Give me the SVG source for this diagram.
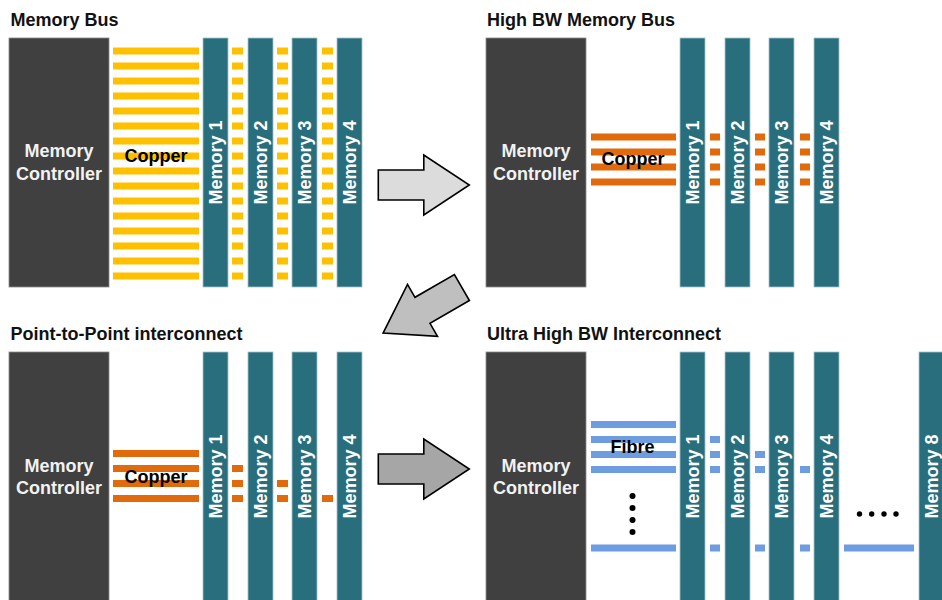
<svg xmlns="http://www.w3.org/2000/svg" width="942" height="600" viewBox="0 0 942 600">
<defs>
<style>
text{font-family:"Liberation Sans",Arial,sans-serif;font-weight:bold;font-size:18px}
.title{fill:#111}
.ctrl{fill:#404040;stroke:#8a8a8a;stroke-width:0.8}
.ctrlt{fill:#f2f2f2;text-anchor:middle}
.mem{fill:#296e7d;stroke:#a3c2c9;stroke-width:0.8}
.memt{fill:#ffffff;text-anchor:middle}
.y{fill:#ffc000}
.o{fill:#e06a0c}
.b{fill:#6d9de0}
.lbl{fill:#000;text-anchor:middle}
.arrow{stroke:#000;stroke-width:1.6;stroke-linejoin:miter}
</style>
<polygon id="arr" points="-45.5,-15 0,-15 0,-30 45.5,0 0,30 0,15 -45.5,15"/>
</defs>
<rect width="942" height="600" fill="#ffffff"/>

<!-- Panel 1: Memory Bus -->
<g id="panel-memory-bus">
<text class="title" x="10.5" y="26">Memory Bus</text>
<g id="p1-controller"><rect class="ctrl" x="9" y="38" width="100" height="249"/><text class="ctrlt" x="59" y="157">Memory</text><text class="ctrlt" x="59" y="180">Controller</text></g>
<g id="p1-copper">
<rect class="y" x="113" y="47.5" width="86" height="7"/><rect class="y" x="113" y="62.5" width="86" height="7"/><rect class="y" x="113" y="77.5" width="86" height="7"/><rect class="y" x="113" y="92.5" width="86" height="7"/><rect class="y" x="113" y="107.5" width="86" height="7"/><rect class="y" x="113" y="122.5" width="86" height="7"/><rect class="y" x="113" y="137.5" width="86" height="7"/><rect class="y" x="113" y="152.5" width="86" height="7"/><rect class="y" x="113" y="167.5" width="86" height="7"/><rect class="y" x="113" y="182.5" width="86" height="7"/><rect class="y" x="113" y="197.5" width="86" height="7"/><rect class="y" x="113" y="212.5" width="86" height="7"/><rect class="y" x="113" y="227.5" width="86" height="7"/><rect class="y" x="113" y="242.5" width="86" height="7"/><rect class="y" x="113" y="257.5" width="86" height="7"/><rect class="y" x="113" y="272.5" width="86" height="7"/>
<text class="lbl" x="156" y="161.5">Copper</text>
</g>
<g id="p1-dashes">
<g id="p1-d1">
<rect class="y" x="232" y="47.5" width="11" height="7"/><rect class="y" x="232" y="62.5" width="11" height="7"/><rect class="y" x="232" y="77.5" width="11" height="7"/><rect class="y" x="232" y="92.5" width="11" height="7"/><rect class="y" x="232" y="107.5" width="11" height="7"/><rect class="y" x="232" y="122.5" width="11" height="7"/><rect class="y" x="232" y="137.5" width="11" height="7"/><rect class="y" x="232" y="152.5" width="11" height="7"/><rect class="y" x="232" y="167.5" width="11" height="7"/><rect class="y" x="232" y="182.5" width="11" height="7"/><rect class="y" x="232" y="197.5" width="11" height="7"/><rect class="y" x="232" y="212.5" width="11" height="7"/><rect class="y" x="232" y="227.5" width="11" height="7"/><rect class="y" x="232" y="242.5" width="11" height="7"/><rect class="y" x="232" y="257.5" width="11" height="7"/><rect class="y" x="232" y="272.5" width="11" height="7"/>
</g>
<use href="#p1-d1" x="45"/>
<use href="#p1-d1" x="90"/>
</g>
<g id="p1-mem1"><rect class="mem" x="203" y="38" width="25" height="249"/><text class="memt" transform="translate(222,162.5) rotate(-90)">Memory 1</text></g>
<g id="p1-mem2"><rect class="mem" x="248" y="38" width="25" height="249"/><text class="memt" transform="translate(267,162.5) rotate(-90)">Memory 2</text></g>
<g id="p1-mem3"><rect class="mem" x="292" y="38" width="25" height="249"/><text class="memt" transform="translate(311,162.5) rotate(-90)">Memory 3</text></g>
<g id="p1-mem4"><rect class="mem" x="337" y="38" width="25" height="249"/><text class="memt" transform="translate(356,162.5) rotate(-90)">Memory 4</text></g>
</g>

<!-- Panel 2: High BW Memory Bus -->
<g id="panel-high-bw">
<text class="title" x="487" y="26">High BW Memory Bus</text>
<g id="p2-controller"><rect class="ctrl" x="486" y="38" width="100" height="249"/><text class="ctrlt" x="536" y="157">Memory</text><text class="ctrlt" x="536" y="180">Controller</text></g>
<g id="p2-copper">
<rect class="o" x="591" y="133.5" width="85" height="7"/><rect class="o" x="591" y="148.5" width="85" height="7"/><rect class="o" x="591" y="163.5" width="85" height="7"/><rect class="o" x="591" y="178.5" width="85" height="7"/>
<text class="lbl" x="633" y="165">Copper</text>
</g>
<g id="p2-dashes">
<g id="p2-d1"><rect class="o" x="710" y="133.5" width="10" height="7"/><rect class="o" x="710" y="148.5" width="10" height="7"/><rect class="o" x="710" y="163.5" width="10" height="7"/><rect class="o" x="710" y="178.5" width="10" height="7"/></g>
<use href="#p2-d1" x="45"/>
<use href="#p2-d1" x="90"/>
</g>
<g id="p2-mem1"><rect class="mem" x="680" y="38" width="25" height="249"/><text class="memt" transform="translate(699,162.5) rotate(-90)">Memory 1</text></g>
<g id="p2-mem2"><rect class="mem" x="725" y="38" width="25" height="249"/><text class="memt" transform="translate(744,162.5) rotate(-90)">Memory 2</text></g>
<g id="p2-mem3"><rect class="mem" x="769" y="38" width="25" height="249"/><text class="memt" transform="translate(788,162.5) rotate(-90)">Memory 3</text></g>
<g id="p2-mem4"><rect class="mem" x="814" y="38" width="25" height="249"/><text class="memt" transform="translate(833,162.5) rotate(-90)">Memory 4</text></g>
</g>

<!-- Panel 3: Point-to-Point -->
<g id="panel-p2p">
<text class="title" x="10.5" y="340">Point-to-Point interconnect</text>
<g id="p3-controller"><rect class="ctrl" x="9" y="352" width="100" height="250"/><text class="ctrlt" x="59" y="471.5">Memory</text><text class="ctrlt" x="59" y="494">Controller</text></g>
<g id="p3-copper">
<rect class="o" x="113" y="450" width="86" height="7"/><rect class="o" x="113" y="465" width="86" height="7"/><rect class="o" x="113" y="480" width="86" height="7"/><rect class="o" x="113" y="495" width="86" height="7"/>
<text class="lbl" x="156" y="482.5">Copper</text>
</g>
<g id="p3-dashes">
<rect class="o" x="232" y="465" width="11" height="7"/><rect class="o" x="232" y="480" width="11" height="7"/><rect class="o" x="232" y="495" width="11" height="7"/>
<rect class="o" x="277" y="480" width="11" height="7"/><rect class="o" x="277" y="495" width="11" height="7"/>
<rect class="o" x="322" y="495" width="11" height="7"/>
</g>
<g id="p3-mem1"><rect class="mem" x="203" y="352" width="25" height="250"/><text class="memt" transform="translate(222,476.5) rotate(-90)">Memory 1</text></g>
<g id="p3-mem2"><rect class="mem" x="248" y="352" width="25" height="250"/><text class="memt" transform="translate(267,476.5) rotate(-90)">Memory 2</text></g>
<g id="p3-mem3"><rect class="mem" x="292" y="352" width="25" height="250"/><text class="memt" transform="translate(311,476.5) rotate(-90)">Memory 3</text></g>
<g id="p3-mem4"><rect class="mem" x="337" y="352" width="25" height="250"/><text class="memt" transform="translate(356,476.5) rotate(-90)">Memory 4</text></g>
</g>

<!-- Panel 4: Ultra High BW -->
<g id="panel-ultra">
<text class="title" x="487" y="340">Ultra High BW Interconnect</text>
<g id="p4-controller"><rect class="ctrl" x="486" y="352" width="100" height="250"/><text class="ctrlt" x="536" y="471.5">Memory</text><text class="ctrlt" x="536" y="494">Controller</text></g>
<g id="p4-fibre">
<rect class="b" x="591" y="421" width="85" height="7"/><rect class="b" x="591" y="436" width="85" height="7"/><rect class="b" x="591" y="451" width="85" height="7"/><rect class="b" x="591" y="466" width="85" height="7"/>
<rect class="b" x="591" y="544.5" width="85" height="7"/>
<text class="lbl" x="632.5" y="452.5">Fibre</text>
<circle cx="632.5" cy="496" r="3"/><circle cx="632.5" cy="508" r="3"/><circle cx="632.5" cy="520" r="3"/><circle cx="632.5" cy="532" r="3"/>
</g>
<g id="p4-dashes">
<rect class="b" x="710" y="436" width="10" height="7"/><rect class="b" x="710" y="451" width="10" height="7"/><rect class="b" x="710" y="466" width="10" height="7"/><rect class="b" x="710" y="544.5" width="10" height="7"/>
<rect class="b" x="755" y="451" width="10" height="7"/><rect class="b" x="755" y="466" width="10" height="7"/><rect class="b" x="755" y="544.5" width="10" height="7"/>
<rect class="b" x="800" y="466" width="10" height="7"/><rect class="b" x="800" y="544.5" width="10" height="7"/>
<rect class="b" x="844" y="544.5" width="70" height="7"/>
<circle cx="859.5" cy="514" r="2.7"/><circle cx="871.7" cy="514" r="2.7"/><circle cx="884" cy="514" r="2.7"/><circle cx="896" cy="514" r="2.7"/>
</g>
<g id="p4-mem1"><rect class="mem" x="680" y="352" width="25" height="250"/><text class="memt" transform="translate(699,476.5) rotate(-90)">Memory 1</text></g>
<g id="p4-mem2"><rect class="mem" x="725" y="352" width="25" height="250"/><text class="memt" transform="translate(744,476.5) rotate(-90)">Memory 2</text></g>
<g id="p4-mem3"><rect class="mem" x="769" y="352" width="25" height="250"/><text class="memt" transform="translate(788,476.5) rotate(-90)">Memory 3</text></g>
<g id="p4-mem4"><rect class="mem" x="814" y="352" width="25" height="250"/><text class="memt" transform="translate(833,476.5) rotate(-90)">Memory 4</text></g>
<g id="p4-mem8"><rect class="mem" x="919" y="352" width="25" height="250"/><text class="memt" transform="translate(938,476.5) rotate(-90)">Memory 8</text></g>
</g>

<!-- Connectors: transition arrows -->
<g id="connectors">
<use href="#arr" class="arrow" fill="#dcdcdc" transform="translate(423.8,185)"/>
<use href="#arr" class="arrow" fill="#bfbfbf" transform="translate(422.5,310.3) rotate(150)"/>
<use href="#arr" class="arrow" fill="#a6a6a6" transform="translate(423.8,469)"/>
</g>
</svg>
